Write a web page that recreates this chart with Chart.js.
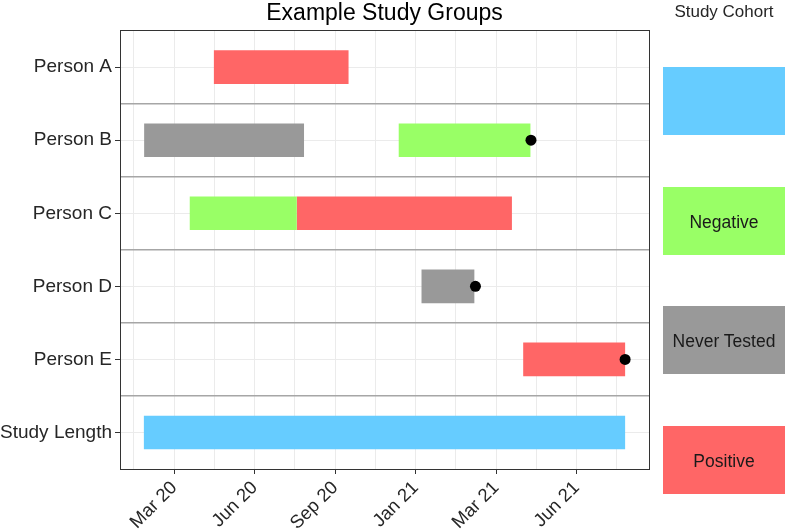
<!DOCTYPE html>
<html>
<head>
    <style>
        body { margin: 0; background: #fff; }
        #wrap { position: relative; width: 786px; height: 532px; font-family: "Liberation Sans", Arial, sans-serif; }
        #legend { position: absolute; left: 663px; top: 0; width: 122px; }
        #legend .title { position: absolute; top: 2px; left: -20px; width: 162px; text-align: center; font-size: 17px; color: #262626; }
        #legend .box { position: absolute; left: 0; width: 122px; height: 68px; line-height: 70px; text-align: center; font-size: 17.5px; color: #1a1a1a; }
    </style>
    <script src="https://cdn.jsdelivr.net/npm/chart.js"></script>
</head>
<body>
    <div id="wrap">
        <canvas id="studyChart" width="786" height="532"></canvas>
        <div id="legend"><div class="title">Study Cohort</div></div>
    </div>

    <script>
        // rader uppifrån och ned
        const categories = ['Person A', 'Person B', 'Person C', 'Person D', 'Person E', 'Study Length'];
        // x i månader räknat från "Mar 20"-strecket
        const tickValues = [0, 3, 6, 9, 12, 15];
        const tickLabels = ['Mar 20', 'Jun 20', 'Sep 20', 'Jan 21', 'Mar 21', 'Jun 21'];

        const cohortNames = ['', 'Negative', 'Never Tested', 'Positive'];
        const cohortColors = ['#66CCFF', '#99FF66', '#999999', '#FF6666'];

        const studyLength = [{ y: 'Study Length', x: [-1.13, 16.81] }];
        const negative = [{ y: 'Person B', x: [8.37, 13.28] }, { y: 'Person C', x: [0.58, 4.57] }];
        const neverTested = [{ y: 'Person B', x: [-1.12, 4.84] }, { y: 'Person D', x: [9.22, 11.19] }];
        const positive = [{ y: 'Person A', x: [1.48, 6.50] }, { y: 'Person C', x: [4.57, 12.59] }, { y: 'Person E', x: [13.01, 16.81] }];
        const endPoints = [{ y: 'Person B', x: 13.30 }, { y: 'Person D', x: 11.23 }, { y: 'Person E', x: 16.81 }];

        const xMin = -2.02, xMax = 17.7;
        const gridValues = [];
        for (let v = -1.5; v < xMax; v += 1.5) gridValues.push(v);

        const font = "'Liberation Sans', Arial, sans-serif";
        const barSets = [studyLength, negative, neverTested, positive];

        const datasets = barSets.map((d, i) => ({
            type: 'bar',
            label: cohortNames[i] || 'Study Length',
            data: d,
            backgroundColor: cohortColors[i],
            borderWidth: 0,
            grouped: false,
            barPercentage: 0.46,
            categoryPercentage: 1,
            yAxisID: 'y',
            xAxisID: 'x'
        }));
        datasets.push({
            type: 'scatter',
            label: 'End',
            data: endPoints,
            order: -1,
            showLine: false,
            pointRadius: 5.5,
            pointBackgroundColor: '#000',
            pointBorderWidth: 0,
            yAxisID: 'y',
            xAxisID: 'x'
        });

        const ctx = document.getElementById('studyChart').getContext('2d');
        new Chart(ctx, {
            type: 'bar',
            data: { labels: categories, datasets: datasets },
            options: {
                indexAxis: 'y',
                responsive: false,
                animation: false,
                layout: { padding: { left: 0, right: 137, top: 0, bottom: 0 } },
                plugins: {
                    legend: { display: false },
                    tooltip: { enabled: false },
                    title: {
                        display: true,
                        text: 'Example Study Groups',
                        fullSize: false,
                        color: '#000',
                        font: { family: font, size: 23, weight: 'normal' },
                        padding: { top: 0, bottom: 3 }
                    }
                },
                scales: {
                    x: {
                        type: 'linear',
                        position: 'bottom',
                        min: xMin,
                        max: xMax,
                        afterBuildTicks: (scale) => { scale.ticks = gridValues.map(v => ({ value: v })); },
                        afterFit: (scale) => { scale.height = 63; },
                        ticks: {
                            autoSkip: false,
                            maxRotation: 45,
                            minRotation: 45,
                            padding: 3,
                            color: '#262626',
                            font: { family: font, size: 18.5 },
                            callback: (v) => {
                                const i = tickValues.indexOf(v);
                                return i >= 0 ? tickLabels[i] : '';
                            }
                        },
                        grid: {
                            color: '#ebebeb',
                            tickLength: 5,
                            tickColor: (c) => (c.tick && tickValues.includes(c.tick.value)) ? '#333' : 'rgba(0,0,0,0)'
                        },
                        border: { color: '#333', z: 1 }
                    },
                    x2: {
                        type: 'linear',
                        position: 'top',
                        min: xMin,
                        max: xMax,
                        ticks: { display: false },
                        grid: { display: false },
                        afterFit: (scale) => { scale.height = 0; },
                        border: { color: '#333', z: 1 }
                    },
                    y: {
                        type: 'category',
                        labels: categories,
                        offset: true,
                        afterFit: (scale) => { scale.width = 120; },
                        ticks: {
                            padding: 3,
                            color: '#262626',
                            font: { family: font, size: 19 }
                        },
                        grid: { offset: false, color: '#ebebeb', tickLength: 5, tickColor: '#333' },
                        border: { color: '#333', z: 1 }
                    },
                    y2: {
                        type: 'category',
                        labels: categories,
                        position: 'right',
                        offset: true,
                        afterFit: (scale) => { scale.width = 0; },
                        ticks: { display: false },
                        grid: {
                            offset: true,
                            drawTicks: false,
                            lineWidth: 1.5,
                            color: (c) => (c.type !== 'tick' || c.index === 0) ? 'rgba(0,0,0,0)' : '#a6a6a6'
                        },
                        border: { color: '#333', z: 1 }
                    }
                }
            }
        });

        // forklaring (legend) byggd från kohortlistorna
        const legend = document.getElementById('legend');
        cohortNames.forEach((name, i) => {
            const box = document.createElement('div');
            box.className = 'box';
            box.style.top = (67 + i * 119.7) + 'px';
            box.style.background = cohortColors[i];
            box.textContent = name;
            legend.appendChild(box);
        });
    </script>
</body>
</html>
